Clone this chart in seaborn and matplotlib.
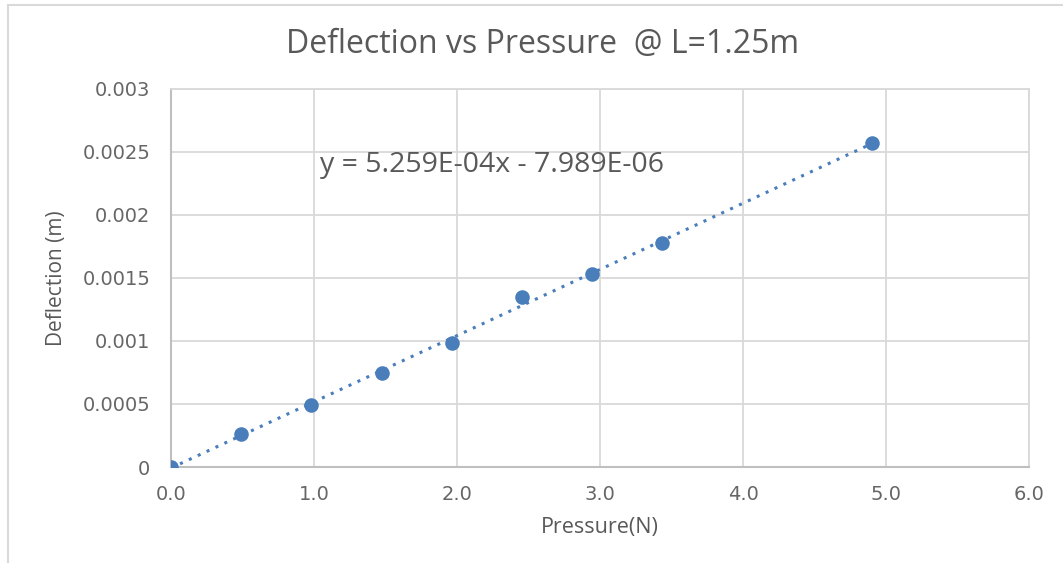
import matplotlib
matplotlib.use("Agg")
import matplotlib.pyplot as plt
import matplotlib.ticker as mticker
from matplotlib.patches import Rectangle
import seaborn as sns
import pandas as pd

# data
pressure = [0.0, 0.4905, 0.981, 1.4715, 1.962, 2.4525, 2.943, 3.4335, 4.905]
deflection = [0.0, 0.000262, 0.000492, 0.000748, 0.000987, 0.001352,
              0.001532, 0.00178, 0.002569]
equation = "y = 5.259E-04x - 7.989E-06"

df = pd.DataFrame({"Pressure(N)": pressure, "Deflection (m)": deflection})

sns.set_style("white")
plt.rcParams['font.family'] = ['Open Sans', 'DejaVu Sans']

blue = "#4a7ebb"
grey_text = "#595959"

fig = plt.figure(figsize=(10.63, 5.63), dpi=100)
ax = fig.add_axes([0.161, 0.1705, 0.807, 0.6715])

sns.regplot(data=df, x="Pressure(N)", y="Deflection (m)", ax=ax, ci=None,
            color=blue,
            scatter_kws={"s": 110, "alpha": 1, "linewidths": 0, "zorder": 4},
            line_kws={"linestyle": (0, (1, 2.2)), "linewidth": 2.2, "zorder": 3})

ax.set_xlim(0, 6)
ax.set_ylim(0, 0.003)
ax.xaxis.set_major_locator(mticker.MultipleLocator(1))
ax.yaxis.set_major_locator(mticker.MultipleLocator(0.0005))
ax.xaxis.set_major_formatter(mticker.FormatStrFormatter('%.1f'))
ax.yaxis.set_major_formatter(mticker.FuncFormatter(lambda v, p: '%g' % round(v, 6)))
ax.grid(True, color="#d9d9d9", linewidth=1.3)
ax.set_axisbelow(True)
for side in ["top", "right"]:
    ax.spines[side].set_color("#d9d9d9")
    ax.spines[side].set_linewidth(1.3)
for side in ["left", "bottom"]:
    ax.spines[side].set_color("#bfbfbf")
    ax.spines[side].set_linewidth(1.5)
ax.tick_params(axis="both", length=0, labelsize=14, labelcolor="#666666")
ax.tick_params(axis="y", pad=15)
ax.tick_params(axis="x", pad=13)
for lbl in ax.get_xticklabels() + ax.get_yticklabels():
    lbl.set_family('DejaVu Sans')

ax.set_xlabel("Pressure(N)", fontsize=15.5, color=grey_text, labelpad=9)
ax.set_ylabel("Deflection (m)", fontsize=15, color=grey_text, labelpad=11)
fig.text(543 / 1063, 1 - 44 / 563, "Deflection vs Pressure  @ L=1.25m",
         fontsize=23, color=grey_text, ha="center", va="center")

ax.text(1.04, 0.0024, equation, fontsize=20.5, color=grey_text, va="center", ha="left")

# chart area frame
fig.patches.append(Rectangle((8 / 1063, -0.1), 1.2, (563 - 5) / 563 + 0.1,
                             transform=fig.transFigure, fill=False,
                             edgecolor="#d9d9d9", linewidth=1.5))

fig.savefig("out.png", dpi=100)
